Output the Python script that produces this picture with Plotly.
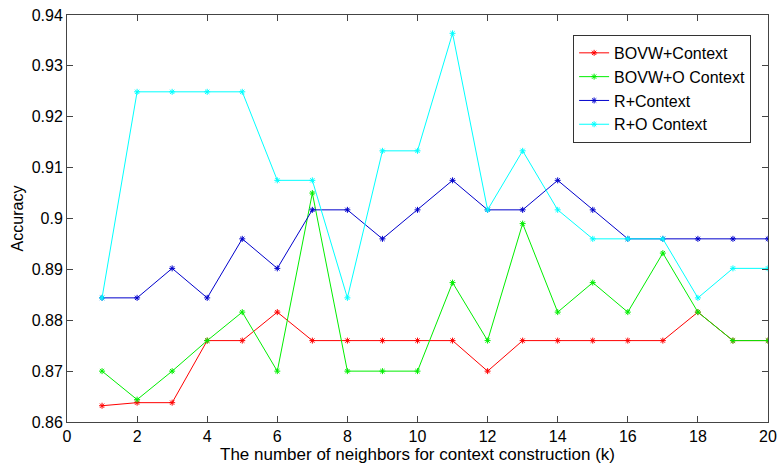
import plotly.graph_objects as go

k = list(range(1, 21))
bovw_context = [0.8632, 0.8638, 0.8638, 0.8760, 0.8760, 0.8816, 0.8760, 0.8760, 0.8760, 0.8760,
                0.8760, 0.8700, 0.8760, 0.8760, 0.8760, 0.8760, 0.8760, 0.8816, 0.8760, 0.8760]
bovw_o_context = [0.8700, 0.8644, 0.8700, 0.8760, 0.8816, 0.8700, 0.9050, 0.8700, 0.8700, 0.8700,
                  0.8874, 0.8760, 0.8990, 0.8816, 0.8874, 0.8816, 0.8932, 0.8816, 0.8760, 0.8760]
r_context = [0.8844, 0.8844, 0.8902, 0.8844, 0.8960, 0.8902, 0.9017, 0.9017, 0.8960, 0.9017,
             0.9075, 0.9017, 0.9017, 0.9075, 0.9017, 0.8960, 0.8960, 0.8960, 0.8960, 0.8960]
r_o_context = [0.8844, 0.9249, 0.9249, 0.9249, 0.9249, 0.9075, 0.9075, 0.8844, 0.9133, 0.9133,
               0.9364, 0.9017, 0.9133, 0.9017, 0.8960, 0.8960, 0.8960, 0.8844, 0.8902, 0.8902]

series = [
    ("BOVW+Context", bovw_context, "#ff0000"),
    ("BOVW+O Context", bovw_o_context, "#00ee00"),
    ("R+Context", r_context, "#0000cc"),
    ("R+O Context", r_o_context, "#00ffff"),
]

x_ticks = list(range(0, 21, 2))
y_ticks = [0.86, 0.87, 0.88, 0.89, 0.90, 0.91, 0.92, 0.93, 0.94]
y_labels = ["0.86", "0.87", "0.88", "0.89", "0.9", "0.91", "0.92", "0.93", "0.94"]

fig = go.Figure()
for name, vals, col in series:
    fig.add_trace(go.Scatter(
        x=k, y=vals, name=name, mode="lines+markers",
        line=dict(color=col, width=1),
        marker=dict(symbol="asterisk-open", size=5, color=col, line=dict(color=col, width=1)),
    ))

fig.update_layout(
    width=784, height=468,
    margin=dict(l=67, r=7, t=13, b=46),
    paper_bgcolor="white", plot_bgcolor="white",
    font=dict(family="Liberation Sans, Arial, sans-serif", size=16, color="black"),
    showlegend=True,
    legend=dict(
        x=0.722, y=0.951, xanchor="left", yanchor="top",
        bgcolor="white", bordercolor="#333", borderwidth=1,
        font=dict(size=16), tracegroupgap=0, itemwidth=30,
    ),
    xaxis=dict(
        range=[0, 20], tickvals=x_ticks, ticks="inside", ticklen=6,
        showline=True, linecolor="#444", mirror="ticks", showgrid=False, zeroline=False,
        ticklabeloverflow="allow",
        title=dict(text="The number of neighbors for context construction (k)", standoff=1,
                   font=dict(size=17)),
        tickfont=dict(size=16),
    ),
    yaxis=dict(
        range=[0.86, 0.94], tickvals=y_ticks, ticktext=y_labels, ticks="inside", ticklen=6,
        showline=True, linecolor="#444", mirror="ticks", showgrid=False, zeroline=False,
        title=dict(text="Accuracy", standoff=4, font=dict(size=16)),
        tickfont=dict(size=16),
    ),
)

fig.write_html("out.html")
